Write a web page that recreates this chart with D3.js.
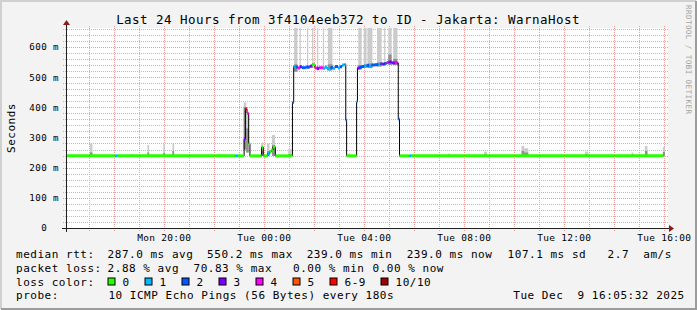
<!DOCTYPE html>
<meta charset="utf-8">
<head>
	<title>Last 24 Hours - smokeping</title>
</head>

<style>

body{
	margin: 0;
	background-color: #f3f3f3;
}

svg{
	display: block;
	font-family: "DejaVu Sans Mono", monospace;
}

</style>

<body>

<svg id="chart" width="697" height="310"></svg>

<script src="https://cdnjs.cloudflare.com/ajax/libs/d3/7.8.5/d3.min.js"></script>
<script>

// median rtt, one entry per change (time, ms, lost pings out of 10)
var medianTime = [
	'2025-12-08 16:06', '2025-12-08 18:03', '2025-12-08 18:09', '2025-12-08 22:52', '2025-12-08 22:58',
	'2025-12-08 23:13', '2025-12-08 23:16', '2025-12-08 23:20', '2025-12-08 23:24', '2025-12-08 23:27',
	'2025-12-08 23:55', '2025-12-08 23:59',
	'2025-12-09 00:10', '2025-12-09 00:14', '2025-12-09 00:18', '2025-12-09 00:22', '2025-12-09 00:28',
	'2025-12-09 01:09', '2025-12-09 01:12', '2025-12-09 01:17', '2025-12-09 01:22', '2025-12-09 01:27',
	'2025-12-09 01:32', '2025-12-09 01:41', '2025-12-09 01:51', '2025-12-09 01:56', '2025-12-09 02:03',
	'2025-12-09 02:08', '2025-12-09 02:13', '2025-12-09 02:22', '2025-12-09 02:27', '2025-12-09 02:32',
	'2025-12-09 02:41', '2025-12-09 02:46', '2025-12-09 02:51', '2025-12-09 02:58', '2025-12-09 03:03',
	'2025-12-09 03:08', '2025-12-09 03:14', '2025-12-09 03:17', '2025-12-09 03:19',
	'2025-12-09 03:43', '2025-12-09 03:45', '2025-12-09 03:50', '2025-12-09 03:55', '2025-12-09 04:01',
	'2025-12-09 04:07', '2025-12-09 04:13', '2025-12-09 04:19', '2025-12-09 04:27', '2025-12-09 04:35',
	'2025-12-09 04:40', '2025-12-09 04:44', '2025-12-09 04:50', '2025-12-09 04:55', '2025-12-09 05:00',
	'2025-12-09 05:07', '2025-12-09 05:15', '2025-12-09 05:20', '2025-12-09 05:23', '2025-12-09 05:26',
	'2025-12-09 05:50', '2025-12-09 05:54', '2025-12-09 15:59'
];
var medianMs = [
	239, 239, 239, 239, 239,
	295, 395, 380, 280, 239,
	268, 239,
	247, 252, 258, 269, 239,
	416, 535, 533, 530, 534,
	531, 533, 536, 542, 530,
	528, 531, 529, 533, 527,
	532, 529, 535, 530, 534,
	540, 542, 357, 239,
	418, 530, 532, 535, 537,
	538, 536, 540, 541, 542,
	544, 543, 545, 548, 550,
	547, 548, 546, 361, 239,
	239, 239, 239
];
var medianLoss = [
	0, 1, 0, 1, 0,
	3, 6, 4, 0, 0,
	0, 0,
	1, 0, 0, 0, 0,
	2, 1, 2, 4, 3,
	2, 2, 3, 0, 4,
	3, 4, 1, 1, 1,
	2, 1, 2, 1, 2,
	1, 1, 2, 0,
	1, 3, 2, 2, 1,
	2, 1, 2, 2, 1,
	2, 3, 2, 4, 3,
	3, 4, 3, 2, 0,
	1, 0, 0
];

// smoke: spread of the single pings (low, dense part, high)
var smokeStart = [
	'2025-12-08 17:03', '2025-12-08 18:41', '2025-12-08 19:21', '2025-12-08 19:48', '2025-12-08 19:59',
	'2025-12-08 20:21', '2025-12-08 22:11', '2025-12-08 23:12', '2025-12-08 23:18', '2025-12-08 23:54',
	'2025-12-09 00:08', '2025-12-09 00:20', '2025-12-09 00:59',
	'2025-12-09 01:13', '2025-12-09 01:26', '2025-12-09 01:44', '2025-12-09 01:56', '2025-12-09 02:08',
	'2025-12-09 02:22', '2025-12-09 02:34', '2025-12-09 03:24',
	'2025-12-09 03:47', '2025-12-09 04:00', '2025-12-09 04:09', '2025-12-09 04:32', '2025-12-09 04:49',
	'2025-12-09 04:59', '2025-12-09 05:11',
	'2025-12-09 07:23', '2025-12-09 08:49', '2025-12-09 10:19', '2025-12-09 10:25', '2025-12-09 12:51',
	'2025-12-09 14:43', '2025-12-09 15:15', '2025-12-09 15:58'
];
var smokeEnd = [
	'2025-12-08 17:09', '2025-12-08 18:45', '2025-12-08 19:25', '2025-12-08 19:51', '2025-12-08 20:03',
	'2025-12-08 20:25', '2025-12-08 22:14', '2025-12-08 23:18', '2025-12-08 23:24', '2025-12-08 23:59',
	'2025-12-09 00:14', '2025-12-09 00:27', '2025-12-09 01:07',
	'2025-12-09 01:21', '2025-12-09 01:29', '2025-12-09 01:47', '2025-12-09 01:59', '2025-12-09 02:11',
	'2025-12-09 02:25', '2025-12-09 02:45', '2025-12-09 03:27',
	'2025-12-09 03:55', '2025-12-09 04:07', '2025-12-09 04:21', '2025-12-09 04:43', '2025-12-09 04:52',
	'2025-12-09 05:07', '2025-12-09 05:21',
	'2025-12-09 07:27', '2025-12-09 08:56', '2025-12-09 10:25', '2025-12-09 10:35', '2025-12-09 12:59',
	'2025-12-09 14:47', '2025-12-09 15:21', '2025-12-09 16:03'
];
var smokeLow = [
	239, 239, 239, 239, 239,
	239, 239, 260, 250, 239,
	239, 239, 239,
	518, 528, 528, 530, 525,
	525, 522, 239,
	525, 530, 530, 535, 538,
	540, 540,
	239, 239, 239, 239, 239,
	239, 239, 239
];
var smokeMid = [
	250, 241, 250, 241, 248,
	255, 241, 400, 330, 255,
	255, 275, 245,
	542, 540, 540, 542, 538,
	538, 542, 241,
	540, 542, 545, 548, 550,
	575, 560,
	241, 244, 255, 250, 244,
	243, 255, 252
];
var smokeHigh = [
	280, 245, 275, 244, 278,
	281, 247, 416, 380, 283,
	280, 308, 261,
	720, 720, 720, 720, 720,
	720, 720, 247,
	720, 720, 720, 720, 720,
	720, 720,
	247, 253, 272, 264, 253,
	250, 272, 269
];

var xTickLabels = ['Mon 20:00', 'Tue 00:00', 'Tue 04:00', 'Tue 08:00', 'Tue 12:00', 'Tue 16:00'];
var yTickValues = [0, 100, 200, 300, 400, 500, 600];

var lossLabels = ['0', '1', '2', '3', '4', '5', '6-9', '10/10'];
var lossColors = ['#26ff00', '#00b8ff', '#0059ff', '#7e00ff', '#ff00ff', '#ff5500', '#ff0000', '#a10000'];

var rttStats = ['287.0 ms avg', '550.2 ms max', '239.0 ms min', '239.0 ms now', '107.1 ms sd', '2.7  am/s'];
var lossStats = ['2.88 % avg', '70.83 % max', '0.00 % min', '0.00 % now'];
var probeText = '10 ICMP Echo Pings (56 Bytes) every 180s';
var stampText = 'Tue Dec  9 16:05:32 2025';
var titleText = 'Last 24 Hours from 3f4104eeb372 to ID - Jakarta: WarnaHost';

var parseTime = d3.timeParse('%Y-%m-%d %H:%M');
var startTime = new Date(2025, 11, 8, 16, 5, 32);
var endTime = new Date(2025, 11, 9, 16, 5, 32);

var pLeft = 66, pRight = 666, pTop = 28, pBottom = 228;
var minorColor = '#bcbcbc', majorColor = '#eb9e9e';

var x = d3.scaleTime().domain([startTime, endTime]).range([pLeft, pRight]);
var y = d3.scaleLinear().domain([0, 662.5]).range([pBottom, pTop]);

var median = medianTime.map(function(t, i){
	return {t: parseTime(t), v: medianMs[i], loss: medianLoss[i]};
});
var smoke = smokeStart.map(function(t, i){
	return {t0: parseTime(t), t1: parseTime(smokeEnd[i]), lo: smokeLow[i], mid: smokeMid[i], hi: smokeHigh[i]};
});

function lossIndex(n){
	if(n >= 10) return 7;
	if(n >= 6) return 6;
	return n;
}

var svg = d3.select('#chart');

// background + shaded frame
svg.append('rect').attr('width', 697).attr('height', 310).attr('fill', '#f3f3f3');
svg.append('path').attr('d', 'M1,309 V1 H696').attr('fill', 'none').attr('stroke', '#d0d0d0').attr('stroke-width', 2);
svg.append('path').attr('d', 'M1,309 H696 V1').attr('fill', 'none').attr('stroke', '#9c9c9c').attr('stroke-width', 2);

svg.append('rect')
	.attr('x', pLeft).attr('y', pTop)
	.attr('width', pRight - pLeft + 2).attr('height', pBottom - pTop)
	.attr('fill', '#ffffff');

svg.append('clipPath').attr('id', 'plotclip')
	.append('rect')
	.attr('x', pLeft).attr('y', pTop)
	.attr('width', pRight - pLeft).attr('height', pBottom - pTop);

// grid: every 20 ms / 1 h dotted grey, every 100 ms / 2 h dotted red
var grid = svg.append('g')
	.attr('stroke-dasharray', '1,1')
	.attr('shape-rendering', 'crispEdges');
var yMinor = d3.range(20, 662, 20);
grid.selectAll('line.h')
	.data(yMinor)
	.enter()
	.append('line')
	.attr('class', 'h')
	.attr('stroke', function(d){ return d % 100 === 0 ? majorColor : minorColor; })
	.attr('x1', pLeft - 3).attr('x2', pRight + 2)
	.attr('y1', function(d){ return Math.round(y(d)) + 0.5; })
	.attr('y2', function(d){ return Math.round(y(d)) + 0.5; });

var majorHours = x.ticks(d3.timeHour.every(2)).map(function(d){ return +d; });
var hours = x.ticks(d3.timeHour.every(1));
grid.selectAll('line.v')
	.data(hours)
	.enter()
	.append('line')
	.attr('class', 'v')
	.attr('stroke', function(d){ return majorHours.indexOf(+d) >= 0 ? majorColor : minorColor; })
	.attr('y1', pTop - 2).attr('y2', pBottom + 3)
	.attr('x1', function(d){ return Math.round(x(d)) + 0.5; })
	.attr('x2', function(d){ return Math.round(x(d)) + 0.5; });

// smoke
var plot = svg.append('g').attr('clip-path', 'url(#plotclip)');
plot.selectAll('rect.smoke')
	.data(smoke)
	.enter()
	.append('rect')
	.attr('class', 'smoke')
	.attr('x', function(d){ return x(d.t0); })
	.attr('width', function(d){ return x(d.t1) - x(d.t0); })
	.attr('y', function(d){ return y(d.hi); })
	.attr('height', function(d){ return y(d.lo) - y(d.hi); })
	.attr('fill', '#cbcbcb');
plot.selectAll('rect.dense')
	.data(smoke)
	.enter()
	.append('rect')
	.attr('class', 'dense')
	.attr('x', function(d){ return x(d.t0); })
	.attr('width', function(d){ return x(d.t1) - x(d.t0); })
	.attr('y', function(d){ return y(d.mid); })
	.attr('height', function(d){ return y(d.lo) - y(d.mid); })
	.attr('fill', '#8e8e8e');

// median: thin black step line, loss coloured segments on top
var stepLine = d3.line()
	.x(function(d){ return x(d.t); })
	.y(function(d){ return y(d.v); })
	.curve(d3.curveStepAfter);
plot.append('path')
	.datum(median)
	.attr('d', stepLine)
	.attr('fill', 'none')
	.attr('stroke', '#000')
	.attr('stroke-width', 1);

plot.selectAll('line.seg')
	.data(median.slice(0, -1))
	.enter()
	.append('line')
	.attr('class', 'seg')
	.attr('x1', function(d){ return x(d.t); })
	.attr('x2', function(d, i){ return x(median[i + 1].t); })
	.attr('y1', function(d){ return y(d.v); })
	.attr('y2', function(d){ return y(d.v); })
	.attr('stroke', function(d){ return lossColors[lossIndex(d.loss)]; })
	.attr('stroke-width', 3);

// axes
var xAxis = d3.axisBottom(x)
	.tickValues(xTickLabels.map(function(s){
		var p = s.split(' ');
		var h = +p[1].slice(0, 2);
		return new Date(2025, 11, p[0] === 'Mon' ? 8 : 9, h, 0, 0);
	}))
	.tickFormat(d3.timeFormat('%a %H:%M'))
	.tickSize(0)
	.tickPadding(6);
var gx = svg.append('g')
	.attr('transform', 'translate(0,' + pBottom + ')')
	.call(xAxis);
gx.select('.domain').remove();
gx.selectAll('text')
	.attr('font-family', '"DejaVu Sans Mono", monospace')
	.attr('font-size', 9.5)
	.attr('letter-spacing', 0.28)
	.attr('fill', '#000');

var yAxis = d3.axisLeft(y)
	.tickValues(yTickValues)
	.tickFormat(function(d){ return d === 0 ? '0\u00a0\u00a0' : d + ' m'; })
	.tickSize(0)
	.tickPadding(7);
var gy = svg.append('g')
	.attr('transform', 'translate(' + pLeft + ',0)')
	.call(yAxis);
gy.select('.domain').remove();
gy.selectAll('text')
	.attr('font-family', '"DejaVu Sans Mono", monospace')
	.attr('font-size', 9.2)
	.attr('letter-spacing', 0.4)
	.attr('fill', '#000');

svg.append('line')
	.attr('x1', pLeft + 0.5).attr('x2', pLeft + 0.5)
	.attr('y1', pBottom + 4).attr('y2', pTop - 4)
	.attr('stroke', '#202020');
svg.append('line')
	.attr('x1', pLeft - 4).attr('x2', pRight + 4)
	.attr('y1', pBottom + 0.5).attr('y2', pBottom + 0.5)
	.attr('stroke', '#202020');
svg.append('path')
	.attr('d', 'M' + (pLeft - 3) + ',' + (pTop - 3) + ' L' + (pLeft + 4) + ',' + (pTop - 3) + ' L' + (pLeft + 0.5) + ',' + (pTop - 8) + 'Z')
	.attr('fill', '#8b1a1a');
svg.append('path')
	.attr('d', 'M' + (pRight + 3) + ',' + (pBottom - 3) + ' L' + (pRight + 3) + ',' + (pBottom + 4) + ' L' + (pRight + 8) + ',' + (pBottom + 0.5) + 'Z')
	.attr('fill', '#8b1a1a');

// title and side labels
svg.append('text')
	.attr('x', 348).attr('y', 23.5)
	.attr('text-anchor', 'middle')
	.attr('font-size', 12.5)
	.attr('letter-spacing', 0.47)
	.text(titleText);

svg.append('text')
	.attr('transform', 'translate(11,128) rotate(-90)')
	.attr('text-anchor', 'middle')
	.attr('dominant-baseline', 'central')
	.attr('font-size', 11)
	.attr('letter-spacing', 0.52)
	.text('Seconds');

svg.append('text')
	.attr('transform', 'translate(688,5) rotate(90)')
	.attr('dominant-baseline', 'central')
	.attr('font-size', 7.6)
	.attr('letter-spacing', 0.4)
	.attr('fill', '#a4a4a4')
	.text('RRDTOOL / TOBI OETIKER');

// legend
var legend = svg.append('g')
	.attr('font-size', 11)
	.attr('letter-spacing', 0.52)
	.attr('fill', '#000');

legend.append('text').attr('x', 16).attr('y', 258).text('median rtt:');
legend.selectAll('text.rtt')
	.data(rttStats)
	.enter()
	.append('text')
	.attr('class', 'rtt')
	.attr('x', function(d, i){ return [107.6, 207.1, 306.7, 406.7, 507.6, 607.6][i]; })
	.attr('y', 258)
	.style('white-space', 'pre')
	.text(function(d){ return d; });

legend.append('text').attr('x', 16).attr('y', 271.8).text('packet loss:');
legend.selectAll('text.pl')
	.data(lossStats)
	.enter()
	.append('text')
	.attr('class', 'pl')
	.attr('x', function(d, i){ return [107.6, 193.5, 293, 372.5][i]; })
	.attr('y', 271.8)
	.text(function(d){ return d; });

legend.append('text').attr('x', 16).attr('y', 285.6).text('loss color:');
var boxX = [107.5, 144.5, 181.5, 218.5, 255.5, 292.5, 329.5, 380.5];
legend.selectAll('rect.lbox')
	.data(lossLabels)
	.enter()
	.append('rect')
	.attr('class', 'lbox')
	.attr('x', function(d, i){ return boxX[i] + 0.5; })
	.attr('y', 278)
	.attr('width', 7)
	.attr('height', 7)
	.attr('fill', function(d, i){ return lossColors[i]; })
	.attr('stroke', '#000')
	.attr('stroke-width', 1);
legend.selectAll('text.llab')
	.data(lossLabels)
	.enter()
	.append('text')
	.attr('class', 'llab')
	.attr('x', function(d, i){ return boxX[i] + 15; })
	.attr('y', 285.6)
	.text(function(d){ return d; });

legend.append('text').attr('x', 16).attr('y', 299.4).text('probe:');
legend.append('text').attr('x', 108.4).attr('y', 299.4).text(probeText);
legend.append('text').attr('x', 513.3).attr('y', 299.4).style('white-space', 'pre').text(stampText);

</script>

</body>
</html>
